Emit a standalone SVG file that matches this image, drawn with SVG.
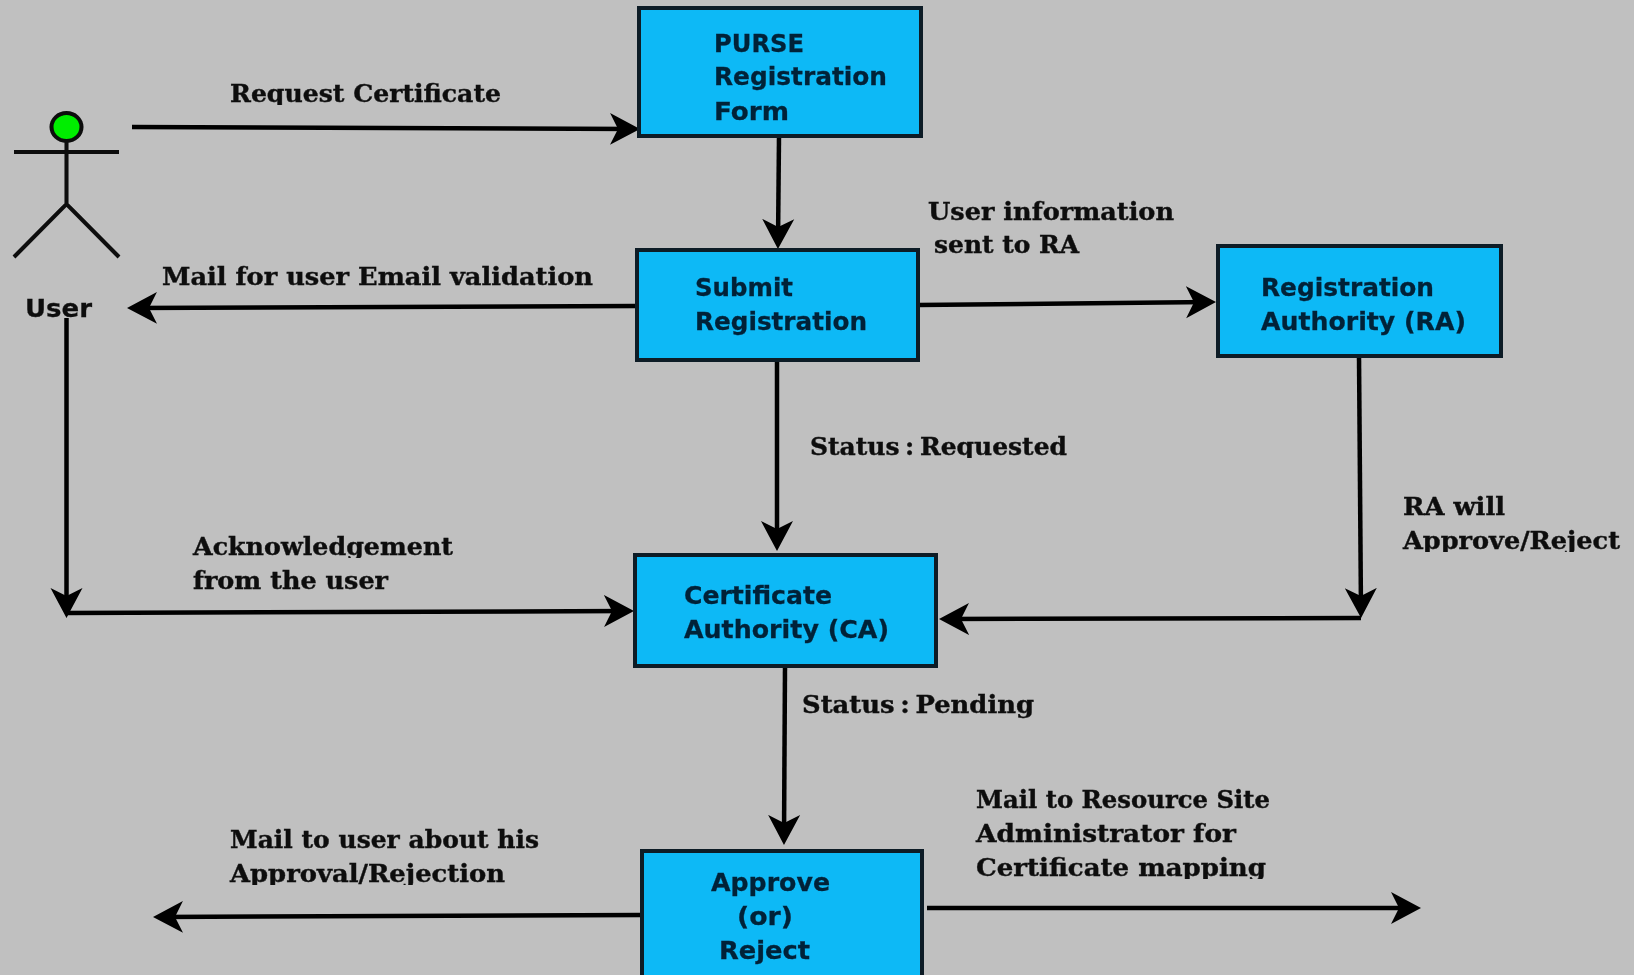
<svg xmlns="http://www.w3.org/2000/svg" width="1634" height="975" viewBox="0 0 1634 975">
<style>
.bg{fill:#c0c0c0}
.box{fill:#10b9f6;stroke:#0a1a26;stroke-width:4}
.bt{font-family:"DejaVu Sans",sans-serif;font-weight:700;font-size:24px;fill:#062238;stroke:#062238;stroke-width:.3}
.us{fill:#111;stroke:#111}
.lb{font-family:"DejaVu Serif",serif;font-weight:700;font-size:24px;fill:#111;stroke:#111;stroke-width:.4}
.ln{fill:none;stroke:#050505;stroke-width:4.500}
.ac{fill:none;stroke:#0a0a0a;stroke-width:4}
</style>
<defs>
<filter id="soft" filterUnits="userSpaceOnUse" x="0" y="0" width="1634" height="975"><feGaussianBlur stdDeviation="0.6"/></filter>
<marker id="ah" markerUnits="userSpaceOnUse" viewBox="0 0 34 34" refX="24" refY="17" markerWidth="34" markerHeight="34" orient="auto">
<path d="M0 1 L30 17 L0 33 L8 17 Z" fill="#050505"/>
</marker>
<clipPath id="c1"><rect x="220" y="70" width="300" height="35"/></clipPath>
<clipPath id="c2"><rect x="800" y="430" width="300" height="28"/></clipPath>
<clipPath id="c3"><rect x="1395" y="525" width="239" height="27"/></clipPath>
<clipPath id="c4"><rect x="185" y="530" width="290" height="28"/></clipPath>
<clipPath id="c5"><rect x="970" y="852" width="320" height="27"/></clipPath>
<clipPath id="c6"><rect x="225" y="858" width="300" height="27"/></clipPath>
</defs>
<rect class="bg" width="1634" height="975"/>
<g filter="url(#soft)">
<g id="connectors">
<path class="ln" marker-end="url(#ah)" d="M132 127 L634 129"/>
<path class="ln" marker-end="url(#ah)" d="M779 136 L778 243"/>
<path class="ln" marker-end="url(#ah)" d="M637 306 L133 308"/>
<path class="ln" marker-end="url(#ah)" d="M918 305 L1210 302"/>
<path class="ln" marker-end="url(#ah)" d="M777 360 L777 545"/>
<path class="ln" marker-end="url(#ah)" d="M66.500 318 L66.500 612"/>
<path class="ln" marker-end="url(#ah)" d="M66 613 L628 611"/>
<path class="ln" marker-end="url(#ah)" d="M1359 356 L1361 612"/>
<path class="ln" marker-end="url(#ah)" d="M1361 618 L945 619"/>
<path class="ln" marker-end="url(#ah)" d="M785 666 L784 839"/>
<path class="ln" marker-end="url(#ah)" d="M642 915 L159 917"/>
<path class="ln" marker-end="url(#ah)" d="M927 908 L1415 908"/>
</g>
<g id="user">
<ellipse cx="66.500" cy="127" rx="15" ry="14" fill="#00ee00" stroke="#0a0a0a" stroke-width="4"/>
<path class="ac" d="M14 152 H119 M66.500 141 V204 M14 257 L66.500 204 L119 257"/>
<text class="bt us" x="25" y="317" textLength="67" lengthAdjust="spacingAndGlyphs">User</text>
</g>
<g id="purse"><rect class="box" x="639" y="8" width="282" height="128"/>
<text class="bt" x="714" y="52" textLength="90" lengthAdjust="spacingAndGlyphs">PURSE</text><text class="bt" x="714" y="85" textLength="173" lengthAdjust="spacingAndGlyphs">Registration</text><text class="bt" x="714" y="120" textLength="75" lengthAdjust="spacingAndGlyphs">Form</text></g>
<g id="submit"><rect class="box" x="637" y="250" width="281" height="110"/>
<text class="bt" x="695" y="296" textLength="98" lengthAdjust="spacingAndGlyphs">Submit</text><text class="bt" x="695" y="330" textLength="172" lengthAdjust="spacingAndGlyphs">Registration</text></g>
<g id="ra"><rect class="box" x="1218" y="246" width="283" height="110"/>
<text class="bt" x="1261" y="296" textLength="173" lengthAdjust="spacingAndGlyphs">Registration</text><text class="bt" x="1261" y="330" textLength="205" lengthAdjust="spacingAndGlyphs">Authority (RA)</text></g>
<g id="ca"><rect class="box" x="635" y="555" width="301" height="111"/>
<text class="bt" x="684" y="604" textLength="148" lengthAdjust="spacingAndGlyphs">Certificate</text><text class="bt" x="684" y="638" textLength="205" lengthAdjust="spacingAndGlyphs">Authority (CA)</text></g>
<g id="approve"><rect class="box" x="642" y="851" width="280" height="132"/>
<text class="bt" x="711" y="891" textLength="119" lengthAdjust="spacingAndGlyphs">Approve</text><text class="bt" x="737" y="925" textLength="56" lengthAdjust="spacingAndGlyphs">(or)</text><text class="bt" x="719" y="959" textLength="91" lengthAdjust="spacingAndGlyphs">Reject</text></g>
<g id="labels">
<text class="lb" x="230" y="102" textLength="271" lengthAdjust="spacingAndGlyphs" clip-path="url(#c1)">Request Certificate</text>
<text class="lb" x="928" y="220" textLength="246" lengthAdjust="spacingAndGlyphs">User information</text>
<text class="lb" x="934" y="253" textLength="145" lengthAdjust="spacingAndGlyphs">sent to RA</text>
<text class="lb" x="162" y="285" textLength="431" lengthAdjust="spacingAndGlyphs">Mail for user Email validation</text>
<text class="lb" x="810" y="455" textLength="257" lengthAdjust="spacingAndGlyphs" word-spacing="-3" clip-path="url(#c2)">Status : Requested</text>
<text class="lb" x="1403" y="515" textLength="102" lengthAdjust="spacingAndGlyphs">RA will</text>
<text class="lb" x="1403" y="549" textLength="217" lengthAdjust="spacingAndGlyphs" clip-path="url(#c3)">Approve/Reject</text>
<text class="lb" x="193" y="555" textLength="260" lengthAdjust="spacingAndGlyphs" clip-path="url(#c4)">Acknowledgement</text>
<text class="lb" x="193" y="589" textLength="195" lengthAdjust="spacingAndGlyphs">from the user</text>
<text class="lb" x="802" y="713" textLength="232" lengthAdjust="spacingAndGlyphs" word-spacing="-3">Status : Pending</text>
<text class="lb" x="976" y="808" textLength="294" lengthAdjust="spacingAndGlyphs">Mail to Resource Site</text>
<text class="lb" x="976" y="842" textLength="260" lengthAdjust="spacingAndGlyphs">Administrator for</text>
<text class="lb" x="976" y="876" textLength="290" lengthAdjust="spacingAndGlyphs" clip-path="url(#c5)">Certificate mapping</text>
<text class="lb" x="230" y="848" textLength="309" lengthAdjust="spacingAndGlyphs">Mail to user about his</text>
<text class="lb" x="230" y="882" textLength="275" lengthAdjust="spacingAndGlyphs" clip-path="url(#c6)">Approval/Rejection</text>
</g>
</g>
</svg>
